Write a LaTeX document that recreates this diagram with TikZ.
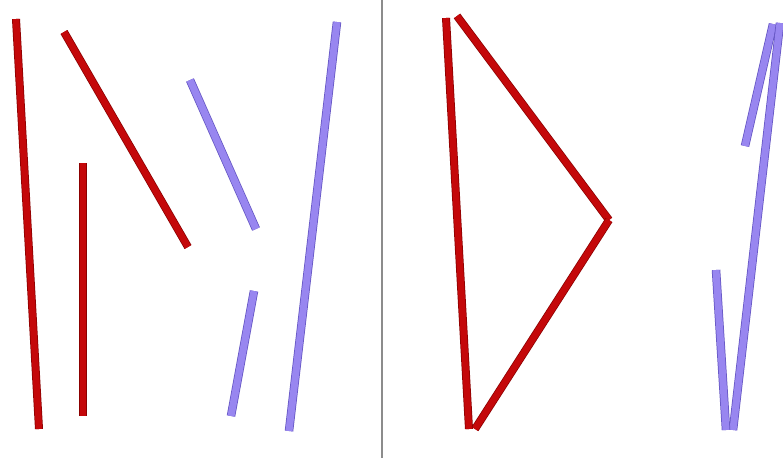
\documentclass[tikz,border=0pt]{standalone}
\usepackage{tikz}
\usepackage{xcolor}
\usetikzlibrary{calc}
\definecolor{StickRed}{RGB}{196,8,10}
\definecolor{StickRedEdge}{RGB}{140,0,0}
\definecolor{StickBlue}{RGB}{152,134,240}
\definecolor{StickBlueEdge}{RGB}{100,85,195}
\definecolor{DividerGray}{RGB}{140,140,140}

\begin{document}
\begin{tikzpicture}[x=1pt, y=-1pt,
  redstick/.style={draw=StickRed, line width=6.5pt, preaction={draw=StickRedEdge, line width=8pt}},
  bluestick/.style={draw=StickBlue, line width=7pt, preaction={draw=StickBlueEdge, line width=8.5pt}}]
\useasboundingbox[fill=white] (0,0) rectangle (783,458);

% divider
\coordinate (divtop) at (381.5,0);
\coordinate (divbot) at (381.5,458);
\draw[DividerGray, line width=2pt] (divtop) -- (divbot);

% loose sticks
\coordinate (ra1) at (16,19);  \coordinate (ra2) at (39,429);
\coordinate (rb1) at (83,163); \coordinate (rb2) at (83,416);
\coordinate (rc1) at (64,32);  \coordinate (rc2) at (188,247);
\draw[redstick] (ra1) -- (ra2);
\draw[redstick] (rb1) -- (rb2);
\draw[redstick] (rc1) -- (rc2);

\coordinate (ba1) at (190,80);  \coordinate (ba2) at (256,229);
\coordinate (bb1) at (254,291); \coordinate (bb2) at (231,416);
\coordinate (bc1) at (337,22);  \coordinate (bc2) at (289,431);
\draw[bluestick] (ba1) -- (ba2);
\draw[bluestick] (bb1) -- (bb2);
\draw[bluestick] (bc1) -- (bc2);

% assembled sticks
\coordinate (ta) at (446,18);
\coordinate (tb) at (457,16);
\coordinate (tc) at (609,220);
\coordinate (td) at (469,429);
\draw[redstick] (ta) -- (td);
\draw[redstick] (tb) -- (tc);
\draw[redstick] (tc) -- ($(td)+(6,0)$);

\coordinate (za) at (745,146);
\coordinate (zb) at (773,24);
\coordinate (zc) at (780,23);
\coordinate (zd) at (733,430);
\coordinate (ze) at (716,270);
\coordinate (zf) at (726,430);
\draw[bluestick] (za) -- (zb);
\draw[bluestick] (zc) -- (zd);
\draw[bluestick] (ze) -- (zf);
\end{tikzpicture}
\end{document}
